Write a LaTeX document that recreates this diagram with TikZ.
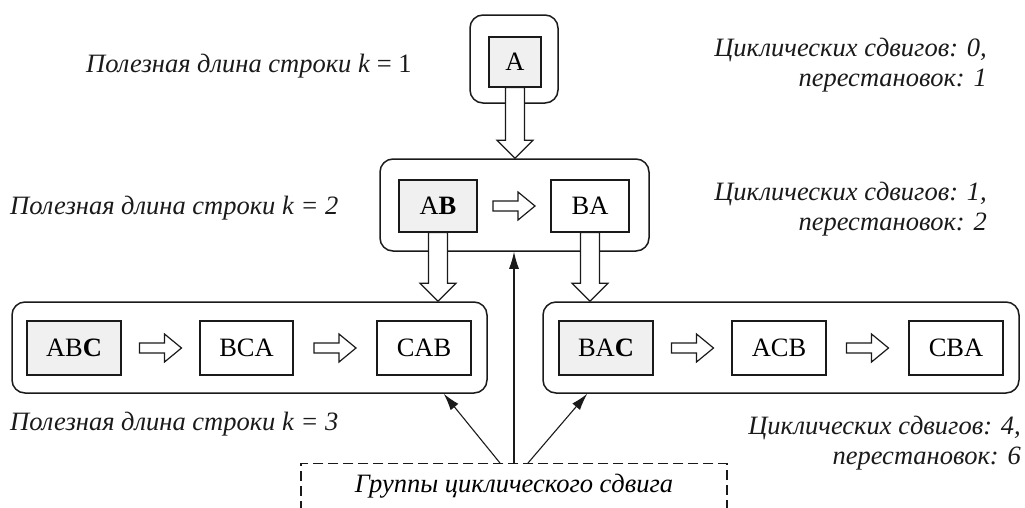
\documentclass[tikz,border=0pt]{standalone}
\usepackage{fontspec}
\setmainfont{Liberation Serif}
\usepackage{tikz}
\usetikzlibrary{positioning,arrows.meta,calc}
\definecolor{ink}{HTML}{1A1A1A}
\definecolor{shade}{HTML}{F0F0F0}
% hollow block arrows between boxes
\newcommand{\hollowright}[2]{%
  \draw[hollow] let \p1=(#1.east), \p2=(#2.west) in
    ({(\x1+\x2)/2-21pt},{\y1+5pt}) -- ({(\x1+\x2)/2+4pt},{\y1+5pt})
    -- ({(\x1+\x2)/2+4pt},{\y1+14pt}) -- ({(\x1+\x2)/2+21pt},\y1)
    -- ({(\x1+\x2)/2+4pt},{\y1-14pt}) -- ({(\x1+\x2)/2+4pt},{\y1-5pt})
    -- ({(\x1+\x2)/2-21pt},{\y1-5pt}) -- cycle;}
\newcommand{\hollowdown}[2]{%
  \draw[hollow] let \p1=(#1.south), \p2=(#2.north) in
    (\x1-9.5pt,\y1) -- (\x1-9.5pt,\y2+18pt) -- (\x1-18pt,\y2+18pt) -- (\x1,\y2)
    -- (\x1+18pt,\y2+18pt) -- (\x1+9.5pt,\y2+18pt) -- (\x1+9.5pt,\y1) -- cycle;}
\tikzset{
  box/.style={draw=ink,line width=1.2pt,fill=white,inner sep=0pt,font=\fontsize{26.5}{31}\selectfont},
  gbox/.style={draw=ink,line width=1.5pt,fill=white,rounded corners=13pt,inner sep=0pt},
  lbl/.style={font=\fontsize{26.5}{30}\selectfont\itshape,inner sep=0pt,text=ink},
  hollow/.style={draw=ink,line width=1.2pt,fill=white,line join=miter},
  arr/.style={-{Latex[length=17pt,width=10pt]},line width=1.1pt,ink},
}
\begin{document}
\begin{tikzpicture}[x=1pt,y=-1pt]
\useasboundingbox (0,0) rectangle (1025,507);
% groups
\node[gbox,minimum width=88,minimum height=88] (g1) at (514,59) {};
\node[gbox,minimum width=269,minimum height=92] (g2) at (514.5,205) {};
\node[gbox,minimum width=475,minimum height=91] (g3) at (249.5,347.5) {};
\node[gbox,minimum width=476,minimum height=91] (g4) at (781,347.5) {};
% strings
\node[box,fill=shade,minimum width=52,minimum height=50] (a) at (515,62) {A};
\node[box,fill=shade,minimum width=78,minimum height=52] (ab) at (438,206) {A\textbf{B}};
\node[box,minimum width=78,minimum height=52] (ba) at (590,206) {BA};
\node[box,fill=shade,minimum width=94,minimum height=54] (abc) at (74,348) {AB\textbf{C}};
\node[box,minimum width=93,minimum height=54] (bca) at (246.5,348) {BCA};
\node[box,minimum width=94,minimum height=54] (cab) at (424,348) {CAB};
\node[box,fill=shade,minimum width=94,minimum height=54] (bac) at (606,348) {BA\textbf{C}};
\node[box,minimum width=94,minimum height=54] (acb) at (779,348) {ACB};
\node[box,minimum width=94,minimum height=54] (cba) at (956,348) {CBA};
% labels
\node[lbl,anchor=west] (k1) at (86,66) {Полезная длина строки k \textup{= 1}};
\node[lbl,anchor=west] (k2) at (10,208) {Полезная длина строки k = 2};
\node[lbl,anchor=west] (k3) at (10,424) {Полезная длина строки k = 3};
\node[lbl,anchor=east,align=right] (c1) at (987,65) {Циклических сдвигов: 0,\\перестановок: 1};
\node[lbl,anchor=east,align=right] (c2) at (987,209) {Циклических сдвигов: 1,\\перестановок: 2};
\node[lbl,anchor=east,align=right] (c3) at (1021,443) {Циклических сдвигов: 4,\\перестановок: 6};
% cyclic group
\node[draw=ink,line width=1.2pt,dash pattern=on 10pt off 5pt,anchor=north,minimum width=426,
  inner ysep=11pt,text depth=30pt,font=\fontsize{26.5}{30}\selectfont\itshape] (grp) at (514,463) {Группы циклического сдвига};
\coordinate (s1) at ($(grp.north)+(-14,0)$);
\coordinate (s2) at ($(grp.north)+(14,0)$);
% block arrows
\hollowdown{a}{g2}
\hollowdown{ab}{g3}
\hollowdown{ba}{g4}
\hollowright{ab}{ba}
\hollowright{abc}{bca}
\hollowright{bca}{cab}
\hollowright{bac}{acb}
\hollowright{acb}{cba}
% pointers
\draw[arr] (s1) -- ($(g3.south east)+(-44,0)$);
\draw[arr] (grp.north) -- (grp.north |- g2.south);
\draw[arr] (s2) -- ($(g4.south west)+(45,0)$);
\end{tikzpicture}
\end{document}
